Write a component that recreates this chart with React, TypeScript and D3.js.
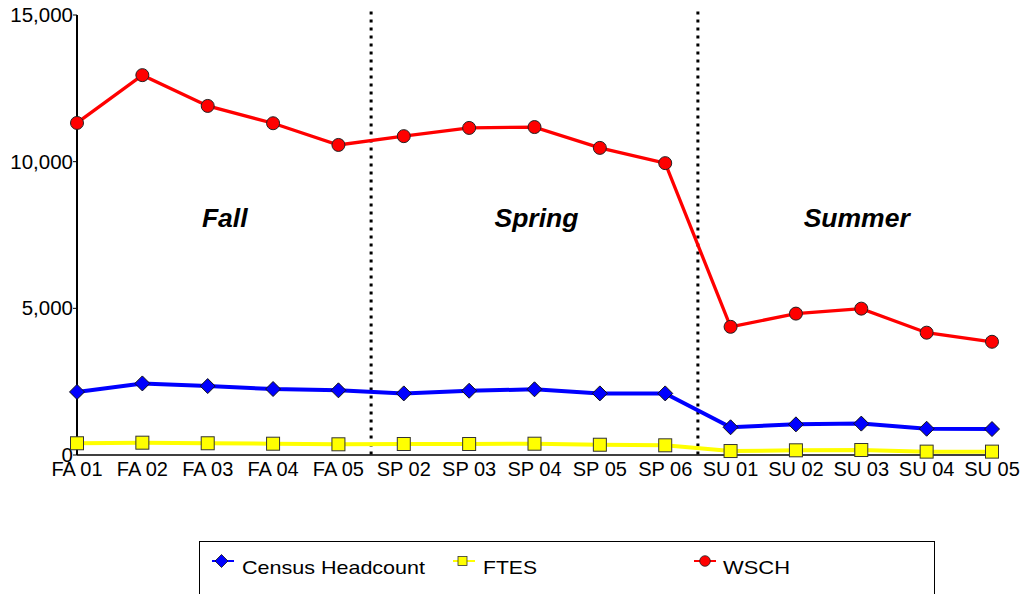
import React from "react";
import * as d3 from "d3";

const categories = ["FA 01","FA 02","FA 03","FA 04","FA 05","SP 02","SP 03","SP 04","SP 05","SP 06","SU 01","SU 02","SU 03","SU 04","SU 05"];
const wsch = [11320,12950,11900,11310,10570,10870,11150,11180,10470,9950,4370,4820,4990,4170,3860];
const headcount = [2150,2440,2350,2250,2205,2100,2190,2240,2100,2100,945,1045,1070,895,885];
const ftes = [400,420,400,385,365,375,375,385,350,330,135,160,170,115,115];
const yTicks = [0,5000,10000,15000];
const seasonLabels = ["Fall", "Spring", "Summer"];
const seasonLabelAt = [2.26, 7.03, 11.93];
const dividers = [4.5, 9.5];

const FONT = "Liberation Sans, Arial, sans-serif";

export default function App() {
  const W = 1027, H = 594;
  const x0 = 77, x1 = 992;
  const x = d3.scaleLinear().domain([0, categories.length - 1]).range([x0, x1]);
  const y = d3.scaleLinear().domain([0, 15000]).range([455, 15]);
  const line = (vals: number[]) =>
    d3.line<number>().x((_, i) => x(i)).y((v) => y(v))(vals) || "";
  const fmt = d3.format(",");
  const d = 7.5;

  return (
    <svg width={W} height={H} style={{ position: "absolute", left: 0, top: 0, background: "#fff" }} fontFamily={FONT}>
      {/* axes */}
      <line x1={x0} y1={y(15000)} x2={x0} y2={y(0)} stroke="#000" strokeWidth={2} />
      <line x1={x0} y1={y(0)} x2={999} y2={y(0)} stroke="#000" strokeWidth={1.5} />
      {yTicks.map((t) => (
        <g key={t}>
          <line x1={x0 - 4} x2={x0} y1={y(t)} y2={y(t)} stroke="#000" />
          <text x={x0 - 4} y={y(t) + 7} textAnchor="end" fontSize={20.5} fill="#000">
            {fmt(t)}
          </text>
        </g>
      ))}
      {categories.map((c, i) => (
        <text key={c} x={x(i)} y={476} textAnchor="middle" fontSize={20} fill="#000">
          {c}
        </text>
      ))}
      {/* dividers */}
      {dividers.map((v) => (
        <line key={v} x1={x(v)} x2={x(v)} y1={11.5} y2={y(0)} stroke="#000" strokeWidth={3} strokeDasharray="3 5" />
      ))}
      {seasonLabels.map((s, i) => (
        <text key={s} x={x(seasonLabelAt[i])} y={227} textAnchor="middle"
          fontSize={26.5} fontWeight="bold" fontStyle="italic" fill="#000">
          {s}
        </text>
      ))}
      {/* series */}
      <path d={line(ftes)} fill="none" stroke="#ffff00" strokeWidth={4} />
      {ftes.map((v, i) => (
        <rect key={i} x={x(i) - 6.5} y={y(v) - 6.5} width={13} height={13} fill="#ffff00" stroke="#333" strokeWidth={1} />
      ))}
      <path d={line(headcount)} fill="none" stroke="#0000ff" strokeWidth={4} />
      {headcount.map((v, i) => (
        <path key={i} d={`M${x(i)},${y(v) - d}L${x(i) + d},${y(v)}L${x(i)},${y(v) + d}L${x(i) - d},${y(v)}Z`}
          fill="#0000ff" stroke="#111" strokeWidth={1} />
      ))}
      <path d={line(wsch)} fill="none" stroke="#ff0000" strokeWidth={3.3} />
      {wsch.map((v, i) => (
        <circle key={i} cx={x(i)} cy={y(v)} r={6.5} fill="#ff0000" stroke="#222" strokeWidth={1} />
      ))}
      {/* legend */}
      <rect x={199.5} y={541.5} width={735} height={70} fill="#fff" stroke="#000" strokeWidth={1} />
      <g>
        <line x1={212} x2={234} y1={561} y2={561} stroke="#0000ff" strokeWidth={2} />
        <path d="M221.5,554.5L228,561L221.5,567.5L215,561Z" fill="#0000ff" stroke="#111" strokeWidth={0.8} />
        <text x={242} y={574} fontSize={19} fill="#000" textLength={183} lengthAdjust="spacingAndGlyphs">Census Headcount</text>
      </g>
      <g>
        <line x1={453} x2={475} y1={561} y2={561} stroke="#ffff00" strokeWidth={2} />
        <rect x={458} y={556.5} width={9} height={9} fill="#ffff00" stroke="#333" strokeWidth={0.8} />
        <text x={483} y={574} fontSize={19} fill="#000" textLength={54} lengthAdjust="spacingAndGlyphs">FTES</text>
      </g>
      <g>
        <line x1={694} x2={716} y1={561} y2={561} stroke="#ff0000" strokeWidth={2} />
        <circle cx={705} cy={561} r={5.3} fill="#ff0000" stroke="#222" strokeWidth={0.8} />
        <text x={723} y={574} fontSize={19} fill="#000" textLength={67} lengthAdjust="spacingAndGlyphs">WSCH</text>
      </g>
    </svg>
  );
}
